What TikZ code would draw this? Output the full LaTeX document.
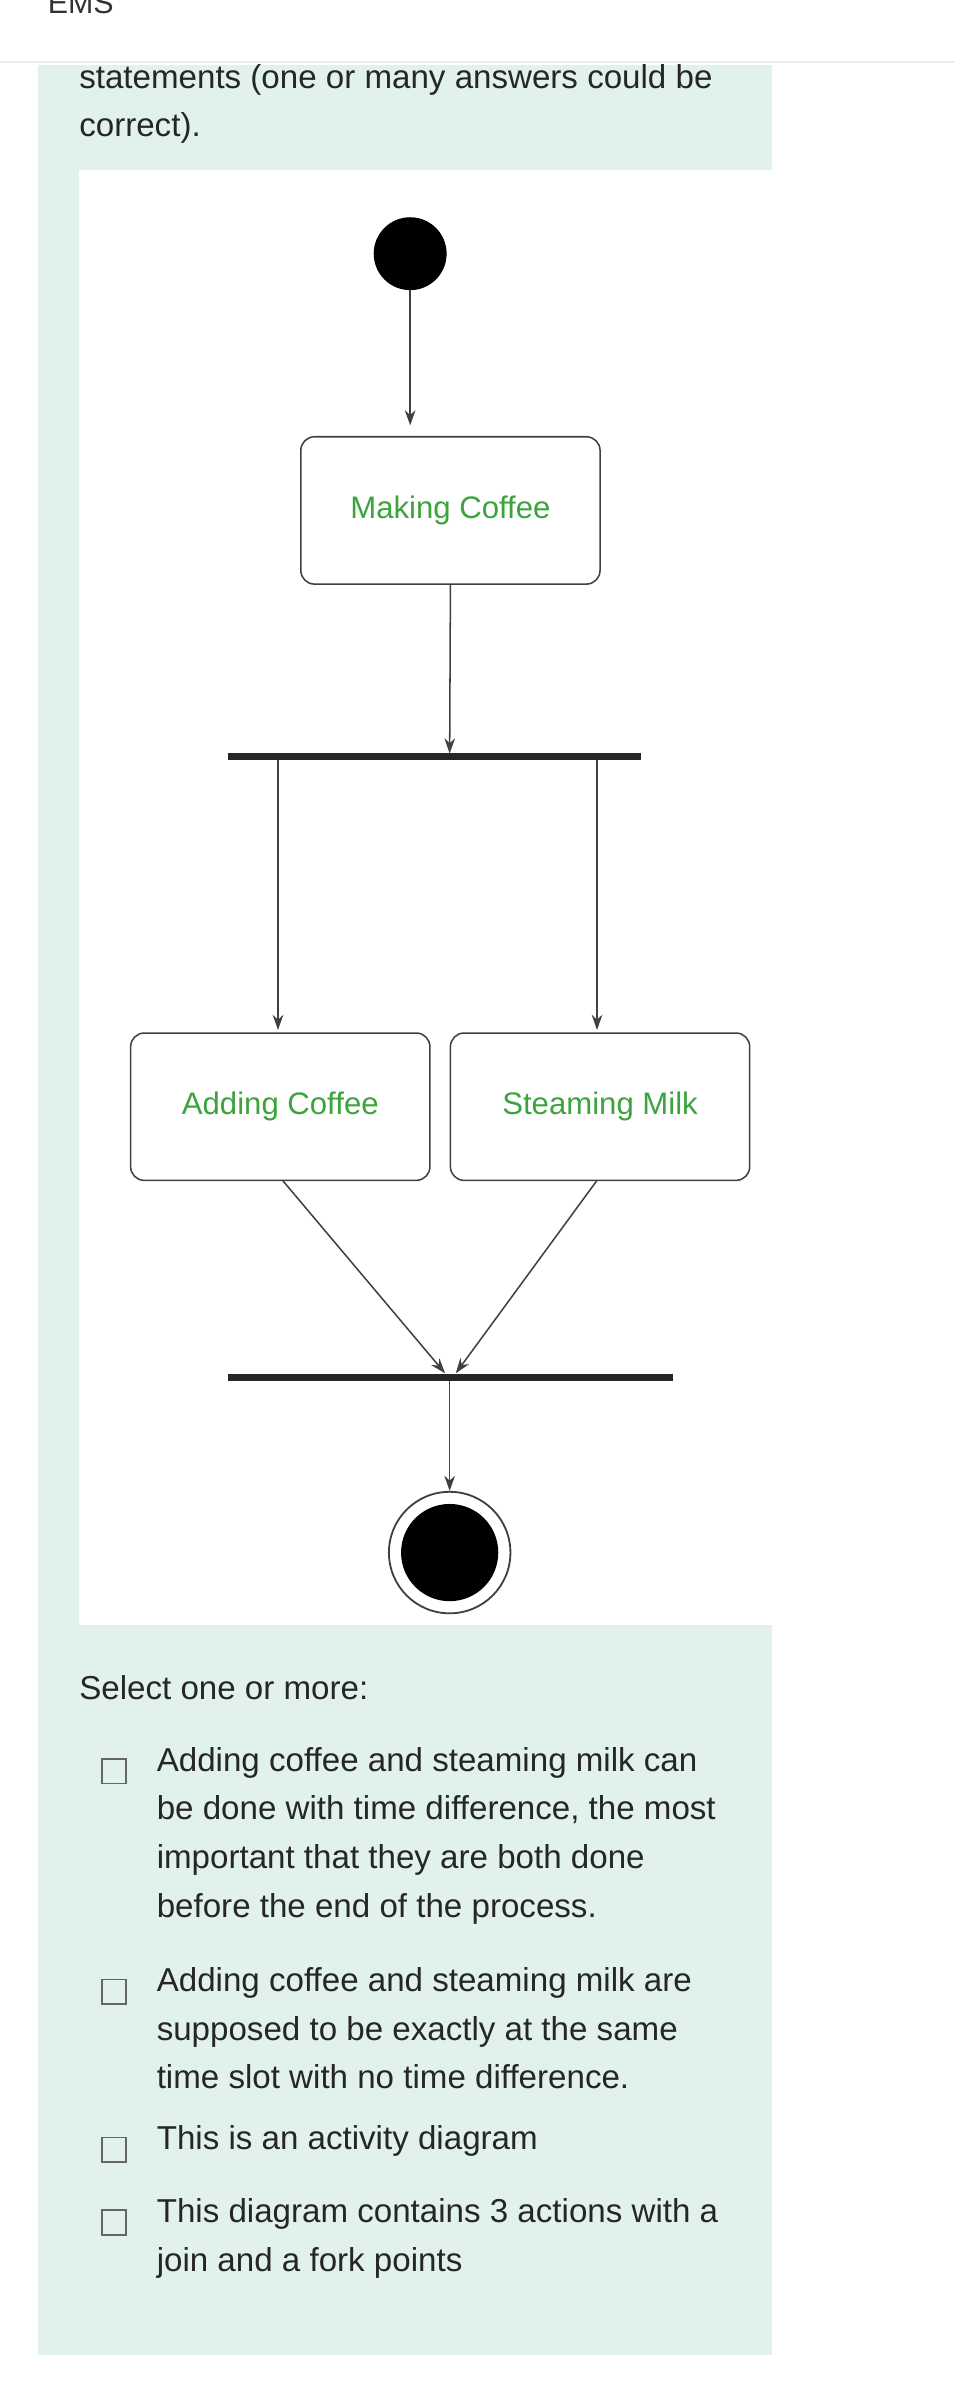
\documentclass[tikz,border=0pt]{standalone}
\usepackage{fontspec}
\setmainfont{Liberation Sans}
\usetikzlibrary{arrows.meta}
\definecolor{mint}{HTML}{E1F2EC}
\definecolor{lbl}{HTML}{3DA33D}
\begin{document}
\begin{tikzpicture}[x=1pt,y=-1pt,
  act/.style={draw=black!75,rounded corners=9pt,line width=1pt,minimum width=197pt,minimum height=97pt,font=\fontsize{20.5}{23}\selectfont,text=lbl},
  bar/.style={line width=4.5pt,draw=black!85},
  flow/.style={draw=black!75,line width=1pt,-{Stealth[length=10pt,width=7pt]}},
  box/.style={draw=black!60,line width=1.2pt,minimum size=16pt,inner sep=0pt},
  ans/.style={anchor=north west,align=left,font=\fontsize{21.8}{32}\selectfont,text=black!85,inner sep=0pt}]
\useasboundingbox (0,0) rectangle (628,1568);
\fill[white] (0,0) rectangle (628,1568);
\draw[black!8,line width=1.5pt] (0,41) -- (628,41);
\node[anchor=west,font=\fontsize{20}{22}\selectfont,text=black!80] (ems) at (28,2) {EMS};
\fill[mint] (25,43) rectangle (508,1550);
\fill[white] (52,112) rectangle (508,1070);
\node[ans] (stm) at (52,42) {statements (one or many answers could be\\correct).};
% diagram
\node[circle,fill=black,minimum size=48pt,inner sep=0pt] (init) at (270,167) {};
\node[act] (mk) at (296.5,336) {Making Coffee};
\coordinate (fk1) at (150,498); \coordinate (fk2) at (422,498);
\draw[bar] (fk1) -- (fk2);
\node[act] (ac) at (184.5,728.5) {Adding Coffee};
\node[act] (sm) at (395,728.5) {Steaming Milk};
\coordinate (jn1) at (150,907); \coordinate (jn2) at (443,907);
\draw[bar] (jn1) -- (jn2);
\node[circle,draw=black!75,line width=1.2pt,minimum size=80pt,inner sep=0pt] (fin) at (296,1022) {};
\node[circle,fill=black,minimum size=64pt,inner sep=0pt] (finin) at (fin) {};
\draw[flow] (init) -- (270,280);
\draw[flow] (mk.south) -- (296,496);
\draw[flow] (183,500) -- (183,678);
\draw[flow] (393,500) -- (393,678);
\draw[flow] (186,777) -- (293,904);
\draw[flow] (393,777) -- (300,904);
\draw[flow] (296,909) -- (fin.north);
% question
\node[anchor=north west,font=\fontsize{21.8}{24}\selectfont,text=black!85,inner sep=0pt] (sel) at (52,1103) {Select one or more:};
\node[box] (c1) at (75,1166) {};
\node[ans] (t1) at (103,1150) {Adding coffee and steaming milk can\\be done with time difference, the most\\important that they are both done\\before the end of the process.};
\node[box] (c2) at (75,1311) {};
\node[ans] (t2) at (103,1295) {Adding coffee and steaming milk are\\supposed to be exactly at the same\\time slot with no time difference.};
\node[box] (c3) at (75,1415) {};
\node[ans] (t3) at (103,1399) {This is an activity diagram};
\node[box] (c4) at (75,1463) {};
\node[ans] (t4) at (103,1447) {This diagram contains 3 actions with a\\join and a fork points};
\end{tikzpicture}
\end{document}
